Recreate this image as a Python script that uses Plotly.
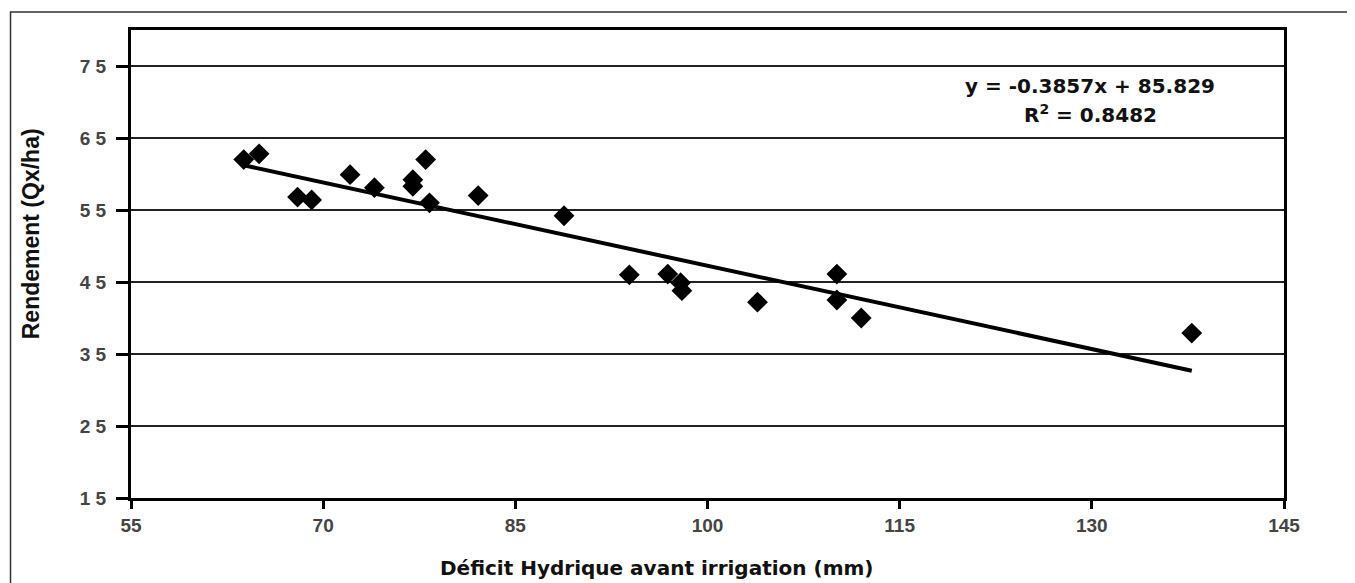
import plotly.graph_objects as go

# Data
deficit = [63.8, 65.0, 68.0, 69.1, 72.1, 74.0, 77.0, 77.0, 78.0, 78.3, 82.1,
           88.8, 93.9, 96.9, 97.9, 98.0, 103.9, 110.1, 110.1, 112.0, 137.8]
rendement = [62.0, 62.8, 56.8, 56.4, 59.9, 58.1, 59.2, 58.3, 62.0, 56.0, 57.0,
             54.2, 46.0, 46.1, 44.9, 43.8, 42.2, 46.1, 42.5, 40.0, 37.9]
slope = -0.3857
intercept = 85.829
r2 = 0.8482

x_ticks = [55, 70, 85, 100, 115, 130, 145]
y_ticks = [15, 25, 35, 45, 55, 65, 75]
y_ticklabels = ["1 5", "2 5", "3 5", "4 5", "5 5", "6 5", "7 5"]
x_title = "Déficit Hydrique avant irrigation (mm)"
y_title = "Rendement (Qx/ha)"

x_fit = [min(deficit), max(deficit)]
y_fit = [slope * v + intercept for v in x_fit]

fig = go.Figure()
fig.add_trace(go.Scatter(x=x_fit, y=y_fit, mode="lines",
                         line=dict(color="black", width=4), showlegend=False,
                         hoverinfo="skip"))
fig.add_trace(go.Scatter(x=deficit, y=rendement, mode="markers",
                         marker=dict(symbol="diamond", size=16, color="black"),
                         showlegend=False))

eq_font = dict(family="DejaVu Sans", size=20, color="#111", weight="bold")
fig.add_annotation(x=0.832, y=0.88, xref="paper", yref="paper", xanchor="center",
                   yanchor="middle", text=f"y = {slope}x + {intercept}",
                   showarrow=False, font=eq_font)
fig.add_annotation(x=0.832, y=0.82, xref="paper", yref="paper", xanchor="center",
                   yanchor="middle", text=f"R<sup>2</sup> = {r2}",
                   showarrow=False, font=eq_font)

# axis titles as annotations to match placement
fig.add_annotation(x=0.456, y=-0.15, xref="paper", yref="paper", xanchor="center",
                   yanchor="middle", text=x_title, showarrow=False,
                   font=dict(family="DejaVu Sans", size=20, color="#111", weight="bold"))
fig.add_annotation(x=-0.087, y=0.565, xref="paper", yref="paper", xanchor="center",
                   yanchor="middle", text=y_title, textangle=-90, showarrow=False,
                   font=dict(family="Liberation Sans", size=23, color="#111", weight="bold"))

# outer border
fig.add_shape(type="rect", xref="paper", yref="paper",
              x0=-0.1045, x1=1.08, y0=-0.3, y1=1.0385,
              line=dict(color="#333", width=1.5), layer="below")

tick_font = dict(family="Liberation Sans", size=19, color="#444", weight="bold")
fig.update_xaxes(range=[55, 145], tickvals=x_ticks, ticktext=[str(v) for v in x_ticks],
                 showgrid=False, zeroline=False,
                 showline=True, linecolor="black", linewidth=3, mirror=True,
                 ticks="outside", ticklen=8, tickwidth=3, tickcolor="black",
                 tickfont=tick_font, automargin=False)
fig.update_yaxes(range=[15, 80], tickvals=y_ticks, ticktext=y_ticklabels,
                 showgrid=True, gridcolor="#222", gridwidth=2, zeroline=False,
                 showline=True, linecolor="black", linewidth=3, mirror=True,
                 ticks="outside", ticklen=12, tickwidth=3, tickcolor="black",
                 ticklabelstandoff=6,
                 tickfont=tick_font, automargin=False)

fig.update_layout(width=1355, height=583,
                  margin=dict(l=123, r=79, t=22, b=93),
                  plot_bgcolor="white", paper_bgcolor="white")

fig.write_html("out.html")
